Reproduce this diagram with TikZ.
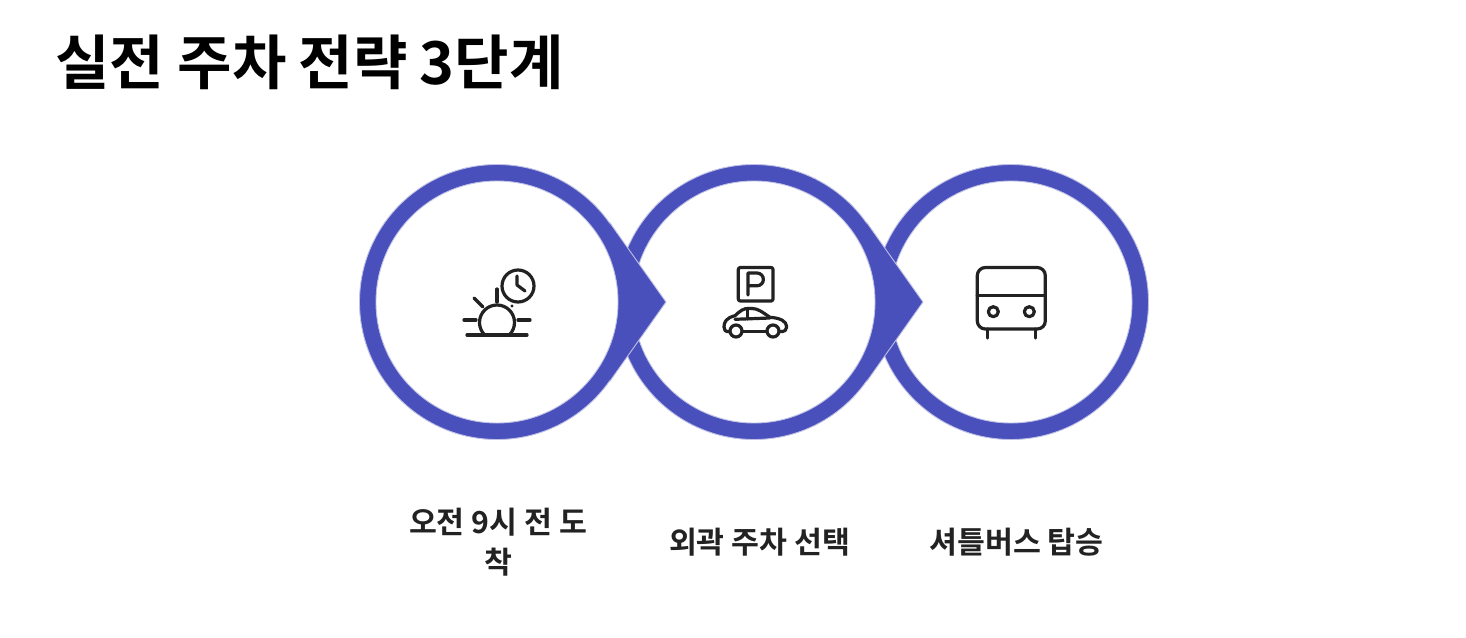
\documentclass[tikz,border=0pt]{standalone}
\usepackage{fontspec}
\setmainfont{Noto Sans CJK KR}[BoldFont={Noto Sans CJK KR Bold}]
\definecolor{ringblue}{HTML}{4950BC}
\definecolor{ringedge}{HTML}{BFC1E4}
\definecolor{iconink}{HTML}{222222}
\tikzset{
  ringshape/.style={fill=ringblue,draw=ringedge,line width=0.9pt,line join=miter},
  ringhole/.style={fill=white,draw=ringedge,line width=0.9pt},
  pointerfill/.style={fill=ringblue,draw=none},
  pointeredge/.style={draw=ringedge,line width=0.9pt,line join=miter},
  iconline/.style={draw=iconink,line width=3.2pt,line cap=round,line join=round},
  steplabel/.style={font=\bfseries\fontsize{30.3}{40}\selectfont,text=iconink,align=center,inner sep=0pt},
  headline/.style={font=\bfseries\fontsize{59.2}{72}\selectfont,text=black,anchor=west,inner sep=0pt}
}
\begin{document}
\begin{tikzpicture}[x=1pt,y=-1pt]
\useasboundingbox (0,0) rectangle (1466,637);
\fill[white] (0,0) rectangle (1466,637);
% third ring
\path[ringshape] (1011,302) circle[radius=137.5];
\path[ringhole] (1011,302) circle[radius=121];
% second ring with pointer
\path[ringshape] (754,302) circle[radius=137.5];
\path[pointerfill] (866.6,222.4) -- (923,302) -- (866.6,381.6) -- cycle;
\path[pointeredge] (866.6,222.4) -- (923,302) -- (866.6,381.6);
\path[ringhole] (754,302) circle[radius=121];
% first ring with pointer
\path[ringshape] (497,302) circle[radius=137.5];
\path[pointerfill] (609.6,222.4) -- (666,302) -- (609.6,381.6) -- cycle;
\path[pointeredge] (609.6,222.4) -- (666,302) -- (609.6,381.6);
\path[ringhole] (497,302) circle[radius=121];
% icon 1
\draw[iconline] (518,286) circle[radius=16];
\draw[iconline] (517,276) -- (517,285) -- (525,291);
\begin{scope}
\clip (470,295) rectangle (530,335);
\draw[iconline] (497,322.5) circle[radius=17.5];
\end{scope}
\draw[iconline] (467,335) -- (527,335);
\draw[iconline] (464,320) -- (476,320);
\draw[iconline] (518,320) -- (530,320);
\draw[iconline] (497,289) -- (497,302);
\draw[iconline] (474,298) -- (483,307);
\fill[iconink] (512,306) circle[radius=1.6];
% icon 2
\draw[iconline,rounded corners=2pt] (738.3,267.5) rectangle (773,301);
\draw[iconline] (748,295) -- (748,273) -- (757,273) arc[start angle=-90,end angle=90,radius=6.4] -- (748,285.8);
\draw[iconline] (736,331) circle[radius=6];
\draw[iconline] (773,331) circle[radius=6];
\draw[iconline] (742.7,331.7) -- (766.7,331.7);
\draw[iconline] (729.5,331.7) .. controls (725,331.7) and (724,330) .. (724,327) .. controls (724,322) and (726,318) .. (735,315.7) .. controls (741,310) and (744,308.5) .. (748,308.5) -- (752,308.5) .. controls (758,308.5) and (762,312) .. (770,317.3) .. controls (780,318) and (786.7,321) .. (786.7,327) .. controls (786.7,330) and (785,331.7) .. (779.5,331.7);
\draw[iconline] (735,319.3) -- (770,318);
\draw[iconline] (747.7,308.5) -- (747.7,319);
% icon 3
\draw[iconline,rounded corners=8pt] (977.3,267.5) rectangle (1045.3,329);
\draw[iconline] (977.3,295.3) -- (1045.3,295.3);
\draw[iconline] (993.3,311.7) circle[radius=5];
\draw[iconline] (1029.3,311.7) circle[radius=5];
\draw[iconline] (987.3,329) -- (987.3,338);
\draw[iconline] (1035.3,329) -- (1035.3,338);
% text
\node[headline] (title) at (55,62) {실전 주차\hspace{-1pt} 전략\hspace{-3pt} \hspace{1pt}3단\hspace{1pt}계};
\node[steplabel] (s1) at (498,542) {오전 9시 전 도\\착};
\node[steplabel] (s2) at (759.5,542) {외곽 주차 선택};
\node[steplabel] (s3) at (1016.5,542) {셔틀버스 탑승};
\end{tikzpicture}
\end{document}
